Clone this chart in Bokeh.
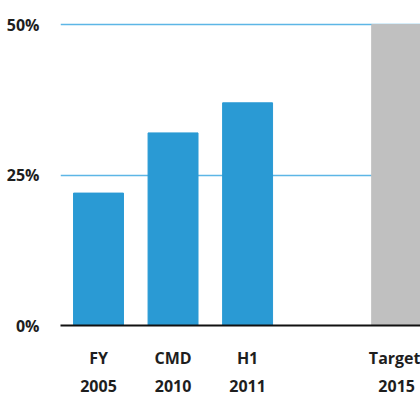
from bokeh.plotting import figure
from bokeh.models import Range1d, FixedTicker, LinearAxis, ColumnDataSource, PrintfTickFormatter
from bokeh.embed import file_html
from bokeh.resources import INLINE

# --- data ---
labels_top = ["FY", "CMD", "H1", "", "Target"]
labels_year = ["2005", "2010", "2011", "", "2015"]
values = [22, 32, 37, None, 50]
kinds = ["actual", "actual", "actual", None, "target"]
y_ticks = [0, 25, 50]

palette = {"actual": "#2A9AD4", "target": "#C0C0C0"}
FONT = "Open Sans"
TEXT = "#1E1E1E"

xs = [i for i, v in enumerate(values) if v is not None]
src = ColumnDataSource(dict(
    x=xs,
    top=[values[i] for i in xs],
    color=[palette[kinds[i]] for i in xs],
))

p = figure(width=420, height=394, output_backend="svg", toolbar_location=None,
           x_range=Range1d(-0.51, 4.32), y_range=Range1d(0, 54),
           min_border_left=60, min_border_right=0, min_border_top=0, min_border_bottom=69)
p.outline_line_color = None
p.background_fill_color = "white"
p.border_fill_color = "white"

p.vbar(x="x", top="top", width=0.67, color="color", source=src)

# grid
p.xgrid.visible = False
p.ygrid.ticker = FixedTicker(ticks=[t for t in y_ticks if t > 0])
p.ygrid.grid_line_color = "#5DB6E6"
p.ygrid.grid_line_width = 1.6

# y axis
ya = p.yaxis[0]
ya.ticker = FixedTicker(ticks=y_ticks)
ya.formatter = PrintfTickFormatter(format="%d%%")
ya.axis_line_color = None
ya.major_tick_line_color = None
ya.minor_tick_line_color = None
ya.major_label_standoff = 15
ya.major_label_text_font = FONT
ya.major_label_text_font_style = "bold"
ya.major_label_text_font_size = "16px"
ya.major_label_text_color = TEXT

# x axis: category names
xa = p.xaxis[0]
xa.ticker = FixedTicker(ticks=xs)
xa.major_label_overrides = {i: labels_top[i] for i in xs}
xa.axis_line_color = "#111111"
xa.axis_line_width = 2
xa.major_tick_line_color = None
xa.minor_tick_line_color = None
xa.major_label_standoff = 15
xa.major_label_text_font = FONT
xa.major_label_text_font_style = "bold"
xa.major_label_text_font_size = "16px"
xa.major_label_text_color = TEXT

# second x axis: years
xa2 = LinearAxis(ticker=FixedTicker(ticks=xs),
                 major_label_overrides={i: labels_year[i] for i in xs})
xa2.axis_line_color = None
xa2.major_tick_line_color = None
xa2.minor_tick_line_color = None
xa2.major_label_standoff = 2
xa2.major_label_text_font = FONT
xa2.major_label_text_font_style = "bold"
xa2.major_label_text_font_size = "16px"
xa2.major_label_text_color = TEXT
p.add_layout(xa2, "below")

open("out.html", "w").write(file_html(p, INLINE))
